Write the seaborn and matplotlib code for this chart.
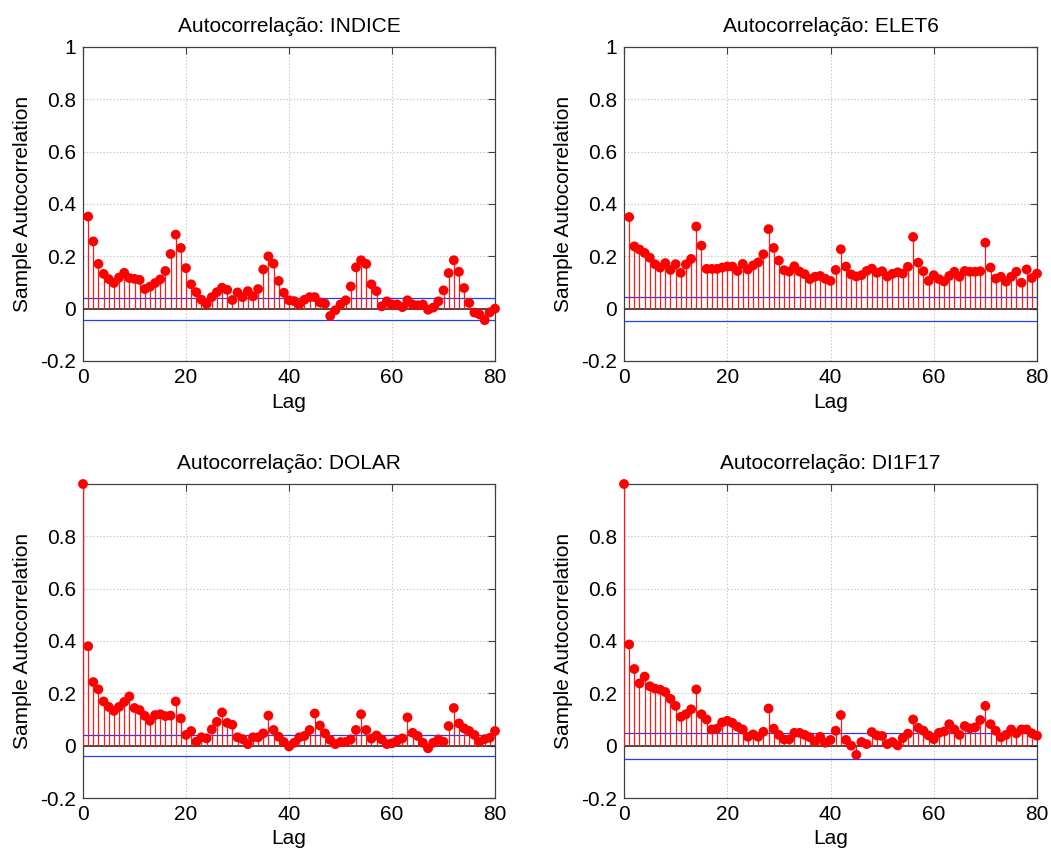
import numpy as np
import pandas as pd
import matplotlib
matplotlib.use("Agg")
import matplotlib.pyplot as plt
import seaborn as sns

# ---------------- data ----------------
titles = ["Autocorrelação: INDICE", "Autocorrelação: ELET6",
          "Autocorrelação: DOLAR", "Autocorrelação: DI1F17"]

# INDICE: lags 1..80
indice = [0.352, 0.257, 0.171, 0.133, 0.113, 0.098, 0.119, 0.137, 0.117, 0.114,
          0.110, 0.075, 0.084, 0.098, 0.112, 0.144, 0.209, 0.283, 0.232, 0.155,
          0.093, 0.063, 0.034, 0.018, 0.044, 0.063, 0.080, 0.072, 0.033, 0.062,
          0.044, 0.067, 0.047, 0.075, 0.150, 0.200, 0.172, 0.106, 0.061, 0.032,
          0.029, 0.016, 0.034, 0.044, 0.044, 0.024, 0.019, -0.028, -0.006, 0.016,
          0.032, 0.085, 0.158, 0.185, 0.171, 0.093, 0.067, 0.009, 0.028, 0.016,
          0.016, 0.006, 0.032, 0.016, 0.013, 0.016, -0.004, 0.004, 0.028, 0.070,
          0.136, 0.185, 0.141, 0.079, 0.022, -0.015, -0.022, -0.044, -0.014, 0.000]

# ELET6: lags 1..80
elet6 = [0.350, 0.238, 0.226, 0.213, 0.195, 0.170, 0.157, 0.174, 0.148, 0.170,
         0.137, 0.169, 0.190, 0.314, 0.241, 0.152, 0.152, 0.152, 0.157, 0.161,
         0.161, 0.144, 0.171, 0.150, 0.165, 0.177, 0.208, 0.304, 0.232, 0.184,
         0.147, 0.142, 0.162, 0.142, 0.132, 0.113, 0.122, 0.125, 0.114, 0.106,
         0.148, 0.227, 0.161, 0.131, 0.123, 0.128, 0.144, 0.153, 0.137, 0.143,
         0.123, 0.133, 0.139, 0.134, 0.160, 0.274, 0.176, 0.143, 0.106, 0.128,
         0.113, 0.104, 0.125, 0.141, 0.122, 0.144, 0.141, 0.141, 0.143, 0.252,
         0.157, 0.115, 0.122, 0.103, 0.122, 0.141, 0.099, 0.150, 0.117, 0.134]

# DOLAR: lags 0..80
dolar = [1.000,
         0.380, 0.243, 0.215, 0.169, 0.148, 0.133, 0.148, 0.167, 0.188, 0.144,
         0.136, 0.114, 0.095, 0.117, 0.120, 0.113, 0.115, 0.169, 0.104, 0.041,
         0.056, 0.015, 0.032, 0.028, 0.062, 0.091, 0.127, 0.087, 0.080, 0.032,
         0.025, 0.006, 0.032, 0.032, 0.047, 0.115, 0.060, 0.034, 0.014, -0.003,
         0.011, 0.032, 0.037, 0.060, 0.123, 0.077, 0.047, 0.022, 0.006, 0.014,
         0.014, 0.024, 0.060, 0.120, 0.060, 0.027, 0.039, 0.024, 0.006, 0.009,
         0.019, 0.028, 0.108, 0.049, 0.037, 0.011, -0.010, 0.011, 0.024, 0.015,
         0.075, 0.144, 0.085, 0.066, 0.056, 0.041, 0.015, 0.025, 0.030, 0.056]

# DI1F17: lags 0..80
di1f17 = [1.000,
          0.387, 0.293, 0.238, 0.264, 0.227, 0.218, 0.214, 0.205, 0.179, 0.152,
          0.110, 0.120, 0.139, 0.215, 0.120, 0.100, 0.062, 0.065, 0.089, 0.095,
          0.087, 0.072, 0.062, 0.034, 0.043, 0.034, 0.053, 0.142, 0.065, 0.041,
          0.024, 0.024, 0.049, 0.049, 0.041, 0.032, 0.015, 0.034, 0.011, 0.022,
          0.057, 0.117, 0.022, 0.000, -0.035, 0.014, 0.006, 0.052, 0.039, 0.037,
          0.006, 0.014, 0.001, 0.029, 0.046, 0.100, 0.068, 0.057, 0.039, 0.025,
          0.049, 0.054, 0.082, 0.062, 0.041, 0.075, 0.066, 0.070, 0.098, 0.152,
          0.082, 0.057, 0.032, 0.041, 0.062, 0.047, 0.062, 0.062, 0.047, 0.038]

first_lag = [1, 1, 0, 0]
bounds = [0.042, 0.046, 0.041, 0.050]
series = [indice, elet6, dolar, di1f17]

xticks = [0, 20, 40, 60, 80]
yticks_top = [-0.2, 0, 0.2, 0.4, 0.6, 0.8, 1]
yticks_bottom = [-0.2, 0, 0.2, 0.4, 0.6, 0.8]

# ---------------- style ----------------
sns.set_theme(style="white")
plt.rcParams['font.family'] = ['Liberation Sans', 'DejaVu Sans']
plt.rcParams['text.color'] = 'black'
plt.rcParams['axes.labelcolor'] = 'black'

W, H = 1051, 860
fig = plt.figure(figsize=(W / 100, H / 100), dpi=100)

# axes boxes in pixels: left, top, right, bottom
boxes = [(83, 47, 495, 361), (624, 47, 1037, 361),
         (83, 484, 495, 798), (624, 484, 1037, 798)]

FS = 15
for i, (title, vals, f0, b, box) in enumerate(zip(titles, series, first_lag, bounds, boxes)):
    l, t, r, btm = box
    ax = fig.add_axes([l / W, 1 - btm / H, (r - l) / W, (btm - t) / H])
    df = pd.DataFrame({"Lag": np.arange(f0, f0 + len(vals)), "ACF": vals})

    ax.set_axisbelow(True)
    ax.grid(True, linestyle=(0, (1.2, 1.8)), color="#c4c4c4", linewidth=0.8)
    ax.vlines(df["Lag"], 0, df["ACF"], color="#ff1a1a", linewidth=0.9, zorder=3)
    ax.axhline(0, color="#1a1a1a", linewidth=1.1, zorder=2)
    ax.axhline(b, color="#1f3fff", linewidth=0.9, zorder=2)
    ax.axhline(-b, color="#1f3fff", linewidth=0.9, zorder=2)
    sns.scatterplot(data=df, x="Lag", y="ACF", ax=ax, color="#ff0000", s=50,
                    edgecolor="none", linewidth=0, zorder=5, clip_on=False,
                    legend=False)

    ax.set_xlim(0, 80)
    ax.set_ylim(-0.2, 1.0)
    ax.set_xticks(xticks)
    ax.set_xticklabels([str(v) for v in xticks])
    yt = yticks_top if i < 2 else yticks_bottom
    ax.set_yticks(yt)
    ax.set_yticklabels(["0" if v == 0 else ("1" if v == 1 else f"{v:g}") for v in yt])
    ax.tick_params(direction="in", top=True, right=True, length=5, width=0.8,
                   labelsize=FS, colors="#404040", labelcolor="black", pad=5)
    for s in ax.spines.values():
        s.set_color("#404040")
        s.set_linewidth(0.9)
    ax.set_title(title, fontsize=FS, pad=11, color="black")
    ax.set_xlabel("Lag", fontsize=FS, labelpad=4, color="black")
    ax.set_ylabel("Sample Autocorrelation", fontsize=FS, labelpad=6, color="black")

fig.savefig("out.png", dpi=100)
